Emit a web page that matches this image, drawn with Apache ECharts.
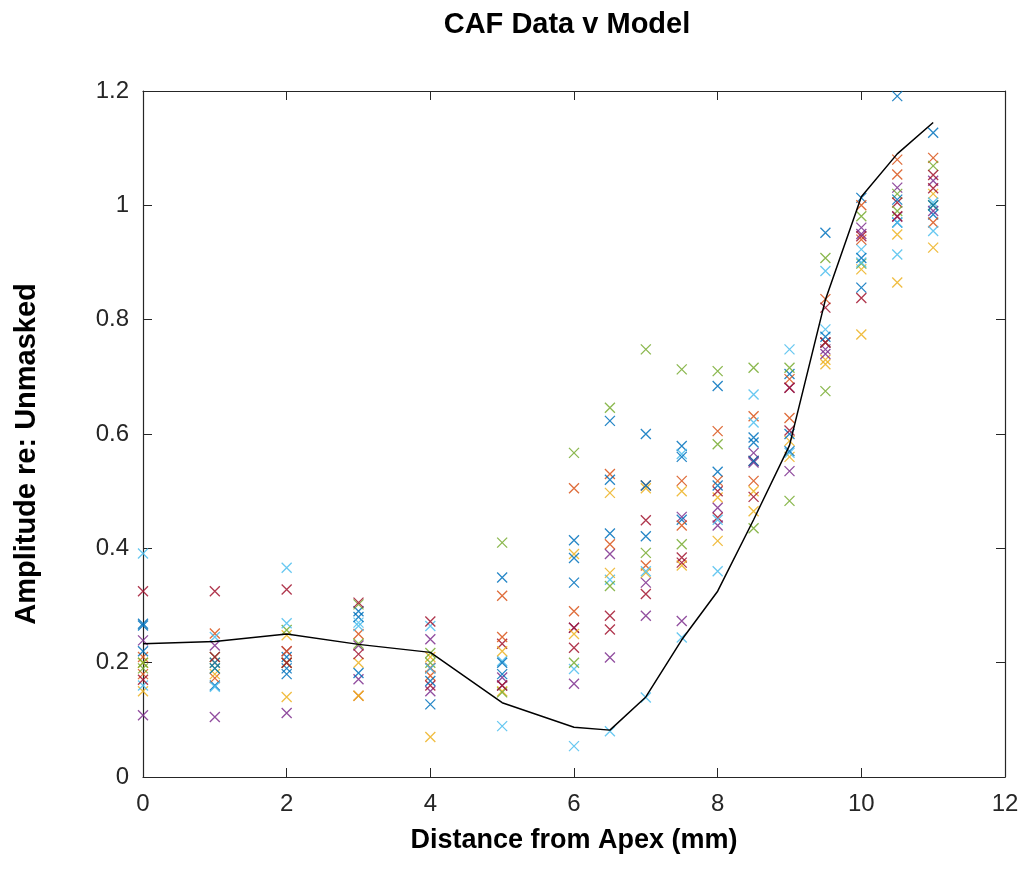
<!DOCTYPE html>
<html>
<head>
<meta charset="utf-8">
<script src="https://cdn.jsdelivr.net/npm/echarts@6/dist/echarts.min.js"></script>
<style>html,body{margin:0;padding:0;background:#fff;}#chart{width:1030px;height:890px;}</style>
</head>
<body>
<div id="chart"></div>
<script>
// Distances (mm) at which measurements were taken
const xPositions = [0, 1, 2, 3, 4, 5, 6, 6.5, 7, 7.5, 8, 8.5, 9, 9.5, 10, 10.5, 11];

// Subject data (amplitude re: unmasked), one array per subject, aligned with xPositions
const subj1  = [0.268, 0.160, 0.190, 0.290, 0.190, 0.349, 0.414, 0.623, 0.600, 0.579, 0.684, 0.594, 0.705, 0.952, 1.013, 1.191, 1.127];
const subj2  = [0.210, 0.251, 0.200, 0.250, 0.191, 0.317, 0.505, 0.530, 0.510, 0.518, 0.605, 0.631, 0.696, 0.836, 1.000, 1.080, 1.083];
const subj3  = [0.200, 0.200, 0.248, 0.200, 0.210, 0.150, 0.390, 0.497, 0.505, 0.500, 0.489, 0.465, 0.588, 0.722, 0.888, 0.949, 1.020];
const subj4  = [0.239, 0.230, 0.220, 0.171, 0.241, 0.174, 0.261, 0.390, 0.340, 0.455, 0.471, 0.567, 0.681, 0.748, 0.961, 1.031, 1.043];
const subj5  = [0.200, 0.210, 0.257, 0.302, 0.217, 0.410, 0.567, 0.646, 0.748, 0.713, 0.710, 0.716, 0.716, 0.908, 0.981, 1.020, 1.069];
const subj6  = [0.391, 0.245, 0.366, 0.264, 0.264, 0.203, 0.189, 0.345, 0.139, 0.565, 0.360, 0.669, 0.748, 0.885, 0.923, 0.914, 1.005];
const subj7  = [0.325, 0.325, 0.328, 0.305, 0.272, 0.233, 0.261, 0.282, 0.449, 0.384, 0.454, 0.553, 0.681, 0.821, 0.946, 1.005, 1.053];
const subj8  = [0.220, 0.200, 0.210, 0.280, 0.127, 0.200, 0.340, 0.426, 0.421, 0.450, 0.534, 0.585, 0.600, 0.760, 0.856, 0.970, 0.984];
const subj9  = [0.180, 0.173, 0.220, 0.142, 0.177, 0.245, 0.290, 0.407, 0.370, 0.440, 0.518, 0.518, 0.628, 0.760, 0.940, 1.054, 0.970];
const subj10 = [0.150, 0.180, 0.140, 0.142, 0.070, 0.220, 0.250, 0.357, 0.357, 0.370, 0.413, 0.500, 0.560, 0.730, 0.774, 0.865, 0.926];
const subj11 = [0.108, 0.105, 0.112, 0.230, 0.150, 0.160, 0.163, 0.209, 0.282, 0.273, 0.440, 0.550, 0.535, 0.740, 0.950, 0.980, 0.990];
const subj12 = [0.190, 0.190, 0.200, 0.233, 0.200, 0.148, 0.200, 0.334, 0.392, 0.407, 0.582, 0.435, 0.483, 0.675, 0.898, 0.990, 1.000];
const subj13 = [0.160, 0.158, 0.269, 0.270, 0.190, 0.089, 0.054, 0.080, 0.360, 0.244, 0.450, 0.620, 0.567, 0.783, 0.900, 0.970, 0.955];
const subj14 = [0.170, 0.210, 0.200, 0.215, 0.160, 0.160, 0.226, 0.258, 0.320, 0.375, 0.500, 0.490, 0.606, 0.760, 0.838, 0.981, 1.030];
const subj15 = [0.265, 0.190, 0.180, 0.182, 0.168, 0.180, 0.383, 0.520, 0.510, 0.560, 0.510, 0.553, 0.570, 0.770, 0.908, 1.010, 1.000];
const subjects = [subj1, subj2, subj3, subj4, subj5, subj6, subj7, subj8, subj9, subj10, subj11, subj12, subj13, subj14, subj15];

// Model curve
const modelY = [0.233, 0.237, 0.250, 0.232, 0.218, 0.130, 0.087, 0.082, 0.140, 0.240, 0.325, 0.450, 0.580, 0.835, 1.015, 1.090, 1.145];

const xTicks = [0, 2, 4, 6, 8, 10, 12];
const yTicks = [0, 0.2, 0.4, 0.6, 0.8, 1, 1.2];

const palette = ['#0072BD', '#D95319', '#EDB120', '#7E2F8E', '#77AC30', '#4DBEEE', '#A2142F'];
const FONT = 'Liberation Sans, Arial, Helvetica, sans-serif';
const AX = '#262626';

const series = subjects.map((arr, i) => ({
  type: 'scatter',
  symbol: 'path://M0,0L10,10M10,0L0,10',
  symbolSize: 10,
  data: arr.map((v, j) => [xPositions[j], v]),
  itemStyle: { color: 'rgba(0,0,0,0)', borderColor: palette[i % palette.length], borderWidth: 1.3, opacity: 0.85 },
  silent: true,
  z: 2
}));
series.push({
  type: 'line',
  data: modelY.map((v, j) => [xPositions[j], v]),
  showSymbol: false,
  lineStyle: { color: '#000', width: 1.5 },
  z: 5,
  silent: true
});

const tickStyle = { show: true, inside: true, length: 9, lineStyle: { color: AX, width: 1 } };
const lineStyle = { show: true, onZero: false, lineStyle: { color: AX, width: 1.2 } };

const chart = echarts.init(document.getElementById('chart'), null, { renderer: 'canvas' });
chart.setOption({
  animation: false,
  backgroundColor: '#fff',
  title: {
    text: 'CAF Data v Model',
    left: 562, top: 5, textAlign: 'center',
    textStyle: { fontFamily: FONT, fontWeight: 'bold', fontSize: 29, color: '#000' }
  },
  graphic: [{
    type: 'text',
    x: 27, y: 454, rotation: Math.PI / 2,
    style: {
      text: 'Amplitude re: Unmasked',
      font: 'bold 29px ' + FONT,
      fill: '#000', textAlign: 'center', textVerticalAlign: 'middle'
    },
    silent: true
  }],
  grid: { left: 143, right: 25, top: 91, bottom: 113, show: false },
  xAxis: [{
    type: 'value', min: xTicks[0], max: xTicks[xTicks.length - 1], interval: 2, position: 'bottom',
    name: 'Distance from Apex (mm)', nameLocation: 'middle', nameGap: 50,
    nameTextStyle: { fontFamily: FONT, fontWeight: 'bold', fontSize: 27, color: '#000' },
    axisLine: lineStyle, axisTick: tickStyle,
    axisLabel: { fontFamily: FONT, fontSize: 24, color: AX, margin: 15 },
    splitLine: { show: false }
  }, {
    type: 'value', min: xTicks[0], max: xTicks[xTicks.length - 1], interval: 2, position: 'top',
    axisLine: lineStyle, axisTick: tickStyle,
    axisLabel: { show: false }, splitLine: { show: false }
  }],
  yAxis: [{
    type: 'value', min: yTicks[0], max: yTicks[yTicks.length - 1], interval: 0.2, position: 'left',
    axisLine: lineStyle, axisTick: tickStyle,
    axisLabel: { fontFamily: FONT, fontSize: 24, color: AX, margin: 14 },
    splitLine: { show: false }
  }, {
    type: 'value', min: yTicks[0], max: yTicks[yTicks.length - 1], interval: 0.2, position: 'right',
    axisLine: lineStyle, axisTick: tickStyle,
    axisLabel: { show: false }, splitLine: { show: false }
  }],
  series: series
});
</script>
</body>
</html>
